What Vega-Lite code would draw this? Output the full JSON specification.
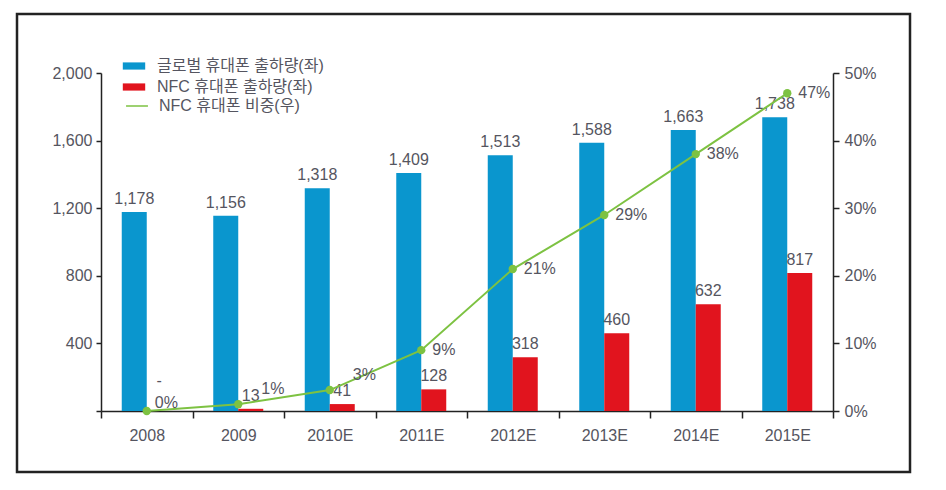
{
  "$schema": "https://vega.github.io/schema/vega-lite/v6.json",
  "width": 893,
  "height": 458,
  "autosize": {"type": "none"},
  "padding": {"left": 17, "top": 14, "right": 36, "bottom": 18},
  "background": "white",
  "config": {
    "view": {"stroke": "#222222", "strokeWidth": 2.5},
    "font": "Liberation Sans, Noto Sans CJK KR, sans-serif",
    "axis": {
      "domainColor": "#222222", "domainWidth": 1.5, "tickColor": "#222222", "tickWidth": 1.5,
      "labelColor": "#555560", "labelFontSize": 16, "labelFont": "Liberation Sans, sans-serif",
      "grid": false, "title": null
    },
    "legend": {
      "labelFont": "Liberation Sans, Noto Sans CJK KR, sans-serif",
      "labelFontSize": 16, "labelColor": "#555560", "title": null, "padding": 0, "rowPadding": 4, "labelLimit": 400
    }
  },
  "datasets": {
    "bars": [
      {"year": "2008", "series": "글로벌 휴대폰 출하량(좌)", "value": 1178},
      {"year": "2008", "series": "NFC 휴대폰 출하량(좌)", "value": 0},
      {"year": "2009", "series": "글로벌 휴대폰 출하량(좌)", "value": 1156},
      {"year": "2009", "series": "NFC 휴대폰 출하량(좌)", "value": 13},
      {"year": "2010E", "series": "글로벌 휴대폰 출하량(좌)", "value": 1318},
      {"year": "2010E", "series": "NFC 휴대폰 출하량(좌)", "value": 41},
      {"year": "2011E", "series": "글로벌 휴대폰 출하량(좌)", "value": 1409},
      {"year": "2011E", "series": "NFC 휴대폰 출하량(좌)", "value": 128},
      {"year": "2012E", "series": "글로벌 휴대폰 출하량(좌)", "value": 1513},
      {"year": "2012E", "series": "NFC 휴대폰 출하량(좌)", "value": 318},
      {"year": "2013E", "series": "글로벌 휴대폰 출하량(좌)", "value": 1588},
      {"year": "2013E", "series": "NFC 휴대폰 출하량(좌)", "value": 460},
      {"year": "2014E", "series": "글로벌 휴대폰 출하량(좌)", "value": 1663},
      {"year": "2014E", "series": "NFC 휴대폰 출하량(좌)", "value": 632},
      {"year": "2015E", "series": "글로벌 휴대폰 출하량(좌)", "value": 1738},
      {"year": "2015E", "series": "NFC 휴대폰 출하량(좌)", "value": 817}
    ],
    "ratio": [
      {"year": "2008", "series": "NFC 휴대폰 비중(우)", "ratio": 0.0},
      {"year": "2009", "series": "NFC 휴대폰 비중(우)", "ratio": 0.01},
      {"year": "2010E", "series": "NFC 휴대폰 비중(우)", "ratio": 0.031},
      {"year": "2011E", "series": "NFC 휴대폰 비중(우)", "ratio": 0.09},
      {"year": "2012E", "series": "NFC 휴대폰 비중(우)", "ratio": 0.21},
      {"year": "2013E", "series": "NFC 휴대폰 비중(우)", "ratio": 0.29},
      {"year": "2014E", "series": "NFC 휴대폰 비중(우)", "ratio": 0.38},
      {"year": "2015E", "series": "NFC 휴대폰 비중(우)", "ratio": 0.47}
    ]
  },
  "encoding": {
    "x": {
      "field": "year", "type": "ordinal", "sort": null,
      "scale": {"range": [84, 816], "paddingInner": 0, "paddingOuter": 0},
      "axis": {"orient": "bottom", "offset": -61, "tickBand": "extent", "tickSize": 7, "labelPadding": 9, "labelAngle": 0}
    }
  },
  "layer": [
    {
      "data": {"name": "bars"},
      "encoding": {
        "xOffset": {
          "field": "series", "type": "nominal", "sort": ["글로벌 휴대폰 출하량(좌)", "NFC 휴대폰 출하량(좌)"],
          "scale": {"paddingOuter": 0.83, "paddingInner": 0}
        },
        "y": {
          "field": "value", "type": "quantitative",
          "scale": {"domain": [0, 2000], "range": [397, 59], "nice": false},
          "axis": {"orient": "left", "offset": -84, "values": [0, 400, 800, 1200, 1600, 2000], "tickSize": 5, "labelPadding": 4,
                   "labelExpr": "datum.value == 0 ? '' : format(datum.value, ',')"}
        }
      },
      "layer": [
        {
          "mark": {"type": "bar"},
          "encoding": {
            "color": {
              "field": "series", "type": "nominal", "sort": ["글로벌 휴대폰 출하량(좌)", "NFC 휴대폰 출하량(좌)"],
              "scale": {"domain": ["글로벌 휴대폰 출하량(좌)", "NFC 휴대폰 출하량(좌)"], "range": ["#0A96CE", "#E1141E"]},
              "legend": {"orient": "none", "legendX": 108, "legendY": 43, "symbolType": "M-1.4,-0.45H1.4V0.45H-1.4Z", "symbolSize": 256, "labelOffset": 14}
            }
          }
        },
        {
          "transform": [{"filter": "datum.value > 0"}],
          "mark": {"type": "text", "baseline": "alphabetic", "dy": -8, "fontSize": 16, "color": "#555560"},
          "encoding": {"text": {"field": "value", "type": "quantitative", "format": ","}}
        },
        {
          "transform": [{"filter": "datum.value == 0"}],
          "mark": {"type": "text", "baseline": "middle", "dy": -30, "fontSize": 16, "color": "#555560", "text": "-"}
        }
      ]
    },
    {
      "data": {"name": "ratio"},
      "encoding": {
        "y": {
          "field": "ratio", "type": "quantitative",
          "scale": {"domain": [0, 0.5], "range": [397, 59], "nice": false},
          "axis": {"orient": "right", "offset": -77, "values": [0, 0.1, 0.2, 0.3, 0.4, 0.5], "format": ".0%", "tickSize": 6, "labelPadding": 5}
        }
      },
      "layer": [
        {
          "mark": {"type": "line", "strokeWidth": 2, "point": {"filled": true, "size": 70}},
          "encoding": {
            "color": {
              "field": "series", "type": "nominal",
              "scale": {"range": ["#7DC242"]},
              "legend": {"orient": "none", "legendX": 108, "legendY": 80, "symbolType": "stroke", "symbolSize": 480, "symbolStrokeWidth": 1.5, "labelOffset": 10}
            }
          }
        },
        {
          "transform": [{"filter": "datum.year == '2008'"}],
          "mark": {"type": "text", "align": "left", "baseline": "middle", "dx": 8, "dy": -8, "fontSize": 16, "color": "#555560"},
          "encoding": {"text": {"field": "ratio", "type": "quantitative", "format": ".0%"}}
        },
        {
          "transform": [{"filter": "datum.year == '2009' || datum.year == '2010E'"}],
          "mark": {"type": "text", "align": "left", "baseline": "middle", "dx": 23, "dy": -15, "fontSize": 16, "color": "#555560"},
          "encoding": {"text": {"field": "ratio", "type": "quantitative", "format": ".0%"}}
        },
        {
          "transform": [{"filter": "datum.year != '2008' && datum.year != '2009' && datum.year != '2010E'"}],
          "mark": {"type": "text", "align": "left", "baseline": "middle", "dx": 11, "dy": 0, "fontSize": 16, "color": "#555560"},
          "encoding": {"text": {"field": "ratio", "type": "quantitative", "format": ".0%"}}
        }
      ]
    }
  ],
  "resolve": {"scale": {"y": "independent", "color": "independent"}}
}
